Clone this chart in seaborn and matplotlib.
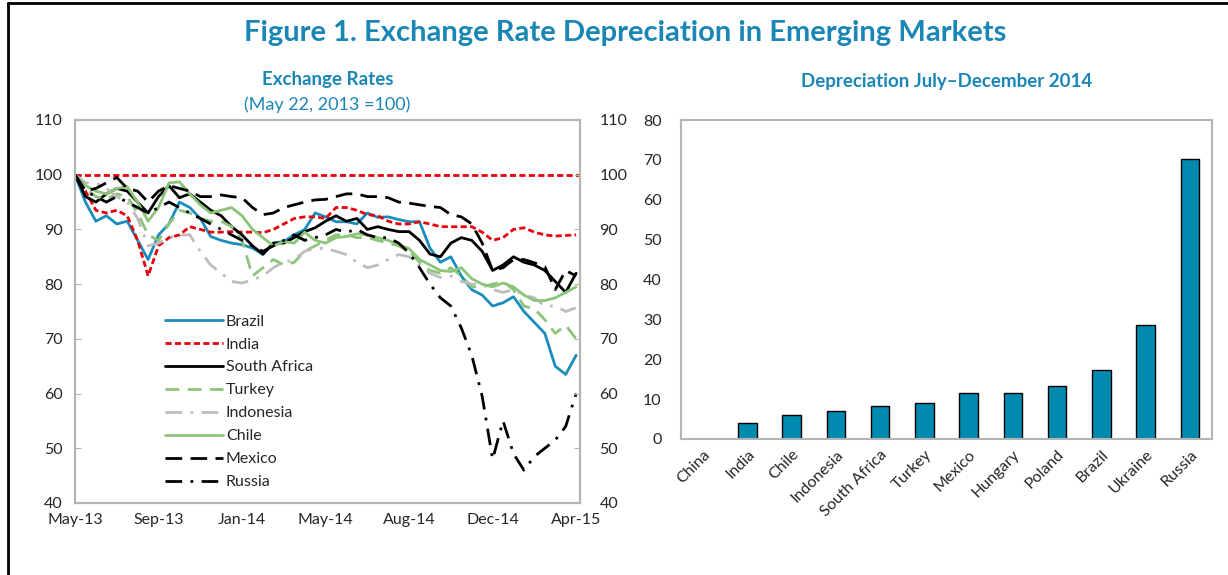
import numpy as np
import pandas as pd
import seaborn as sns
import matplotlib.pyplot as plt
from matplotlib.lines import Line2D

# ---- data ---- #

# exchange rates, May 22 2013 = 100, sampled at 49 evenly spaced dates
brazil = [100, 95, 91.5, 92.5, 91, 91.5, 88, 84.5, 89, 91, 95, 94, 92, 88.7, 88, 87.5,
          87.2, 86.6, 85.4, 87.5, 87.8, 89, 90, 93, 92.3, 91.4, 91.4, 91, 93, 92.2, 92.3, 91.8,
          91.4, 91.4, 86.6, 84, 85, 81.5, 79, 78, 76, 76.6, 77.7, 75, 73, 71, 65, 63.5, 67]
india = [100, 97, 93.5, 93, 93.5, 92.5, 88, 81.5, 87, 88.5, 89, 90.5, 90, 89.5, 89.5, 89.6,
         89.5, 89.5, 89.4, 90, 91, 92, 92.3, 92.3, 92, 94, 94, 93.5, 92.7, 92.5, 91.5, 91,
         91, 91.4, 91, 90.5, 90.5, 90.5, 90.5, 89.5, 88, 88.5, 90, 90.3, 89.5, 89, 88.8, 88.9, 89]
south_africa = [100, 96, 95, 96.5, 97.5, 97, 95, 93, 96, 98, 95.8, 96.5, 95, 93.5, 92.5, 90.5,
                89, 87, 85.5, 87.5, 87.5, 88.5, 89.6, 90.3, 91.5, 92.5, 91.5, 92, 90, 90.5, 90, 89.6,
                89.6, 88, 85.5, 85, 87.5, 88.5, 88, 86, 82.5, 83.5, 85, 84, 83.5, 82.5, 80.5, 78.5, 82]
turkey = [100, 97.5, 96, 95.5, 96.5, 96, 93, 89, 88, 91, 93.5, 93, 92, 91.5, 91.5, 90.5,
          88, 81.5, 83, 84.5, 83.5, 84, 86, 87, 88, 89, 89, 88.5, 88.5, 88, 87.5, 87,
          86, 84, 82.5, 82, 83, 81.5, 79.5, 79.5, 80, 80.5, 79, 76, 75.5, 73.5, 71, 72.5, 70]
indonesia = [100, 98.5, 98.5, 97.5, 96, 95, 92, 87, 87.5, 88.5, 89, 89, 86, 83.5, 82, 80.5,
             80.2, 80.8, 81.5, 83, 84, 84.5, 86, 86.6, 86.5, 86, 85.4, 84, 83, 83.5, 84.5, 85.4,
             85, 83.5, 82, 81.2, 81.5, 80.5, 80, 80, 79, 78.5, 79, 78, 77.5, 76, 76, 75, 75.7]
chile = [100, 98, 97, 96.5, 97.5, 97.8, 95, 91.5, 94, 98.5, 98.7, 96.5, 94.5, 93, 93.5, 94,
         92.5, 90, 88.5, 87, 87.8, 87.5, 89.5, 88, 87.5, 88.5, 88.7, 89.2, 89, 88.5, 88, 87.2,
         86.5, 84.5, 83.5, 82.5, 82.3, 83, 81, 80, 79.5, 80.2, 79.5, 78, 77, 77, 77.5, 78.5, 79.5]
mexico = [100, 97, 97.5, 98.5, 99.5, 97.5, 97, 95, 97, 98, 97.5, 97, 96, 96, 96.3, 96,
          95.8, 94, 92.7, 93, 94, 94.5, 95, 95.4, 95.5, 96, 96.5, 96.5, 96, 96, 95.8, 95,
          94.8, 94.5, 94.2, 94, 92.7, 92.3, 91, 87.5, 82.5, 83, 84.5, 84.5, 83.9, 83.2, 79, 82.5, 81.5]
russia = [100, 97, 96, 95, 96, 95, 94, 93, 94, 95, 94, 93, 92, 91, 90, 89,
          88, 87, 86, 87, 88, 89, 88, 88.5, 89, 90, 89.5, 90, 89, 88.5, 88.5, 87.5,
          85.7, 83, 80, 77.5, 76, 72, 67, 59.5, 48, 55, 49, 46, 48.5, 50, 51.5, 54, 60]
BASE = 100

series_names = ['Brazil', 'India', 'South Africa', 'Turkey', 'Indonesia', 'Chile', 'Mexico', 'Russia']
series_vals = [brazil, india, south_africa, turkey, indonesia, chile, mexico, russia]
date_labels = ['May-13', 'Sep-13', 'Jan-14', 'May-14', 'Aug-14', 'Dec-14', 'Apr-15']

# depreciation July-December 2014
countries = ['China', 'India', 'Chile', 'Indonesia', 'South Africa', 'Turkey', 'Mexico',
             'Hungary', 'Poland', 'Brazil', 'Ukraine', 'Russia']
depreciation = [-0.2, 4.1, 5.9, 6.9, 8.2, 9.0, 11.5, 11.5, 13.4, 17.4, 28.7, 70.3]

# ---- style ---- #

TEAL = '#1a86b6'
BAR = '#008ab0'
GRID = '#b4b4b4'

sns.set_style('white')
plt.rcParams['font.family'] = ['Lato', 'DejaVu Sans']

colors = {'Brazil': '#1b8dbd', 'India': '#e8000b', 'South Africa': 'black', 'Turkey': '#8cc47a',
          'Indonesia': '#bdbdbd', 'Chile': '#8cc47a', 'Mexico': 'black', 'Russia': 'black'}
dashes = {'Brazil': '', 'India': (2.2, 1.2), 'South Africa': '', 'Turkey': (5, 3),
          'Indonesia': (6, 3, 1, 3), 'Chile': '', 'Mexico': (6, 3), 'Russia': (6, 3, 1, 3)}

rows = []
for name, vals in zip(series_names, series_vals):
    for i, v in enumerate(vals):
        rows.append((i, name, v))
df = pd.DataFrame(rows, columns=['t', 'Country', 'Index'])

fig = plt.figure(figsize=(12.28, 5.75), dpi=100)

# ---- left panel ---- #
ax = fig.add_axes([75 / 1228, 1 - 503 / 575, 505 / 1228, 383 / 575])
ax.axhline(BASE, color=colors['India'], lw=2, dashes=(2.2, 1.2), zorder=1)
sns.lineplot(data=df, x='t', y='Index', hue='Country', style='Country',
             hue_order=series_names, style_order=series_names,
             palette=colors, dashes=dashes, linewidth=2, ax=ax)
ax.set_xlim(0, 48.37)
ax.set_ylim(40, 110)
ax.set_yticks(range(40, 111, 10))
ax.set_xticks(np.arange(0, 49, 8))
ax.set_xticklabels(date_labels)
ax.set_xlabel('')
ax.set_ylabel('')
ax.tick_params(direction='in', length=4, color=GRID, labelsize=11.5, pad=7)
ax.tick_params(axis='y', pad=9)
for s in ax.spines.values():
    s.set_color(GRID)
    s.set_linewidth(1.5)

ax2 = ax.twinx()
ax2.set_ylim(40, 110)
ax2.set_yticks(range(40, 111, 10))
ax2.tick_params(direction='in', length=4, color=GRID, labelsize=11.5, pad=14)
for s in ax2.spines.values():
    s.set_color(GRID)
    s.set_linewidth(1.5)

leg = ax.legend(loc='upper left', bbox_to_anchor=(0.15, 0.53), frameon=False,
                fontsize=11.5, handlelength=3.6, handletextpad=0.2, labelspacing=0.55)

ax.text(0.5, 1.107, 'Exchange Rates', transform=ax.transAxes, ha='center', va='center',
        fontsize=13.5, fontweight='bold', color=TEAL)
ax.text(0.5, 1.04, '(May 22, 2013 =100)', transform=ax.transAxes, ha='center', va='center',
        fontsize=13, color=TEAL)

# ---- right panel ---- #
bx = fig.add_axes([681 / 1228, 1 - 439 / 575, 531 / 1228, 319 / 575])
sns.barplot(x=countries, y=depreciation, color=BAR, edgecolor='black', linewidth=1,
            width=0.42, saturation=1, ax=bx)
bx.set_ylim(0, 80)
bx.set_xlim(-0.5, len(countries) - 0.5)
bx.set_yticks(range(0, 81, 10))
bx.set_xticks(np.arange(len(countries)) + 0.5, minor=True)
bx.tick_params(axis='x', which='major', length=0, labelsize=11.5, labelrotation=45, pad=6)
bx.tick_params(axis='x', which='minor', direction='in', length=4, color=GRID)
bx.tick_params(axis='y', direction='in', length=0, labelsize=11.5, pad=14)
for lab in bx.get_xticklabels():
    lab.set_ha('right')
    lab.set_rotation_mode('anchor')
for s in bx.spines.values():
    s.set_color(GRID)
    s.set_linewidth(1.5)
bx.text(0.5, 1.12, 'Depreciation July\u2013December 2014', transform=bx.transAxes,
        ha='center', va='center', fontsize=13.5, fontweight='bold', color=TEAL)

# ---- figure title and frame ---- #
fig.text(625 / 1228, 1 - 33 / 575, 'Figure 1. Exchange Rate Depreciation in Emerging Markets',
         ha='center', va='center', fontsize=21, fontweight='bold', color=TEAL)
fig.add_artist(Line2D([8 / 1228, 1], [1 - 3 / 575, 1 - 3 / 575], color='black', lw=2,
                      transform=fig.transFigure))
fig.add_artist(Line2D([8 / 1228, 8 / 1228], [0, 1 - 3 / 575], color='black', lw=2,
                      transform=fig.transFigure))

fig.savefig('out.png', dpi=100)
